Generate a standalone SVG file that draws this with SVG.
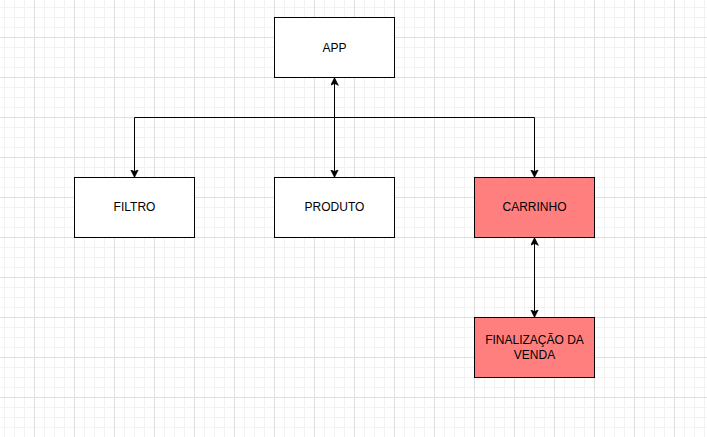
<svg xmlns="http://www.w3.org/2000/svg" width="707" height="437" viewBox="0 0 707 437">
<style>
.box{stroke:#000;stroke-width:1;fill:#fff}
.red{fill:#FF7F7F}
.lbl{font-family:"Liberation Sans",Arial,sans-serif;font-size:12px;fill:#000;text-anchor:middle}
.edge{fill:none;stroke:#000;stroke-width:1}
</style>
<defs>
<pattern id="grid" patternUnits="userSpaceOnUse" x="4" y="7" width="40" height="40">
<path d="M0.5,0 V40 M10.5,0 V40 M20.5,0 V40 M0,0.5 H40 M0,10.5 H40 M0,20.5 H40" stroke="#f2f2f2" stroke-width="1" fill="none"/>
<path d="M30.5,0 V40 M0,30.5 H40" stroke="#e0e0e0" stroke-width="1" fill="none"/>
</pattern>
<marker id="arr" markerUnits="userSpaceOnUse" markerWidth="10" markerHeight="10" refX="8" refY="4" orient="auto-start-reverse" viewBox="0 0 10 10">
<path d="M0,0 L8,4 L0,8 L2,4 Z" fill="#000" stroke="#000" stroke-width="0.5"/>
</marker>
</defs>
<rect width="707" height="437" fill="#fff"/>
<rect width="707" height="437" fill="url(#grid)"/>
<g id="connectors">
<path class="edge" d="M134.5,177.5 V117.5 H534.5 V177.5" marker-start="url(#arr)" marker-end="url(#arr)"/>
<path class="edge" d="M334.5,77.5 V177.5" marker-start="url(#arr)" marker-end="url(#arr)"/>
<path class="edge" d="M534.5,237.5 V317.5" marker-start="url(#arr)" marker-end="url(#arr)"/>
</g>
<g id="app">
<rect class="box" x="274.5" y="17.5" width="120" height="60"/>
<text class="lbl" x="334.5" y="51.5">APP</text>
</g>
<g id="filtro">
<rect class="box" x="74.5" y="177.5" width="120" height="60"/>
<text class="lbl" x="134.5" y="211.2">FILTRO</text>
</g>
<g id="produto">
<rect class="box" x="274.5" y="177.5" width="120" height="60"/>
<text class="lbl" x="334.5" y="211.2">PRODUTO</text>
</g>
<g id="carrinho">
<rect class="box red" x="474.5" y="177.5" width="120" height="60"/>
<text class="lbl" x="534.5" y="211.2">CARRINHO</text>
</g>
<g id="finalizacao">
<rect class="box red" x="474.5" y="317.5" width="120" height="60"/>
<text class="lbl" x="534.5" y="344.4">FINALIZAÇÃO DA</text>
<text class="lbl" x="534.5" y="358.6">VENDA</text>
</g>
</svg>
